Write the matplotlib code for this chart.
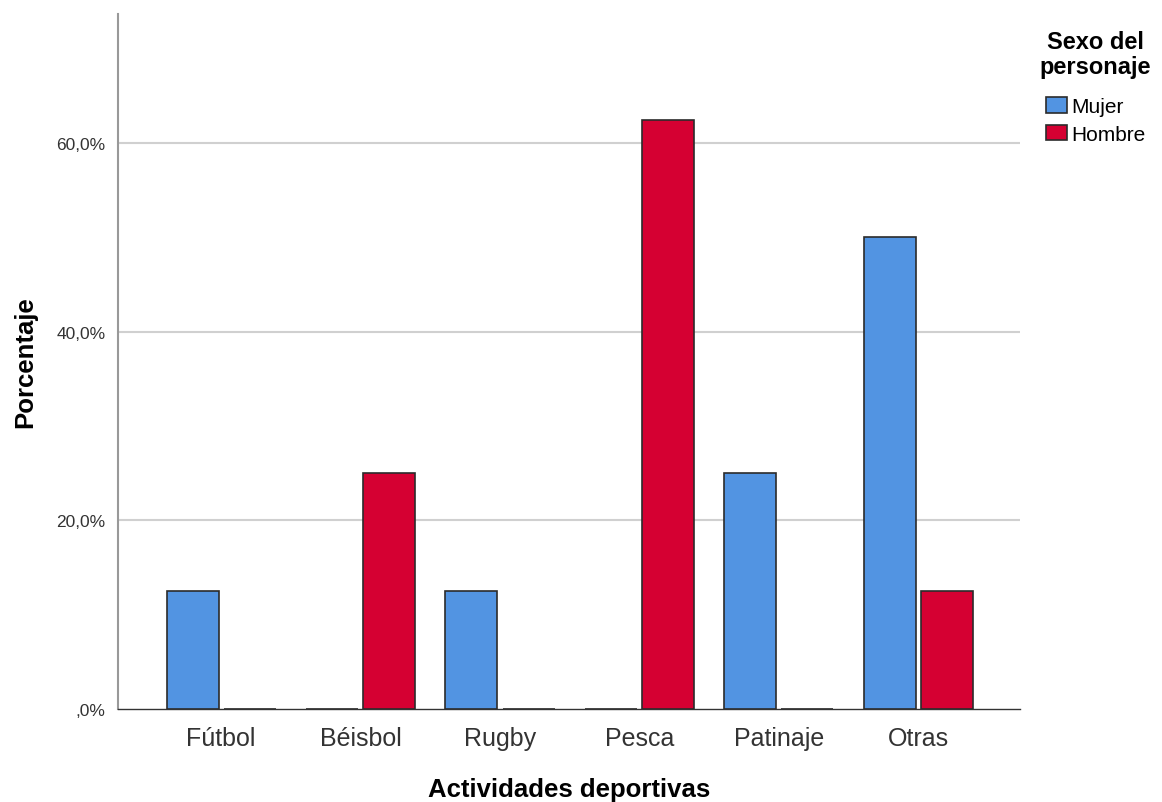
import matplotlib.pyplot as plt
import numpy as np

plt.rcParams['font.family'] = ['Liberation Sans', 'DejaVu Sans']

categorias = ['Fútbol', 'Béisbol', 'Rugby', 'Pesca', 'Patinaje', 'Otras']
mujer = [12.5, 0.0, 12.5, 0.0, 25.0, 50.0]
hombre = [0.0, 25.0, 0.0, 62.5, 0.0, 12.5]
series = ['Mujer', 'Hombre']
y_ticks = [0, 20, 40, 60]
y_tick_labels = [',0%', '20,0%', '40,0%', '60,0%']

W, H = 1162, 803
fig = plt.figure(figsize=(W / 100, H / 100), dpi=100)
ax = fig.add_axes([118 / W, 1 - 710 / H, 902 / W, 695 / H])

ind = np.arange(len(categorias))
width = 0.373
off = 0.205
ax.bar(ind - off, mujer, width, color='#5294e2', edgecolor='#2b2b2b', linewidth=1.2,
       label=series[0], zorder=3)
ax.bar(ind + off, hombre, width, color='#d50032', edgecolor='#2b2b2b', linewidth=1.2,
       label=series[1], zorder=3)

ax.set_xlim(-0.74, 5.73)
ax.set_ylim(0, 73.7)
ax.set_yticks(y_ticks)
ax.set_yticklabels(y_tick_labels, fontsize=12.5, color='#333333')
ax.set_xticks(ind)
ax.set_xticklabels(categorias, fontsize=18, color='#333333')
ax.tick_params(length=0)
ax.tick_params(axis='y', pad=9)
ax.tick_params(axis='x', pad=12)
for y in y_ticks[1:]:
    ax.axhline(y, color='#d0d0d0', linewidth=1.5, zorder=1)

for s in ['top', 'right']:
    ax.spines[s].set_visible(False)
ax.spines['left'].set_color('#999999')
ax.spines['left'].set_linewidth(1.5)
ax.spines['bottom'].set_color('#333333')
ax.spines['bottom'].set_linewidth(1.0)

ax.set_xlabel('Actividades deportivas', fontsize=18.5, fontweight='bold', labelpad=20)
ax.set_ylabel('Porcentaje', fontsize=18.5, fontweight='bold', labelpad=14)

fig.text(1095 / W, 1 - 55 / H, 'Sexo del\npersonaje', fontsize=17, fontweight='bold',
         ha='center', va='center', linespacing=1.1)
fig.legend(loc='upper left', bbox_to_anchor=(1046 / W, 1 - 98 / H),
           frameon=False, fontsize=15, handlelength=1.0, handleheight=0.8,
           handletextpad=0.2, labelspacing=0.4, borderaxespad=0, borderpad=0)

fig.savefig('out.png', dpi=100)
